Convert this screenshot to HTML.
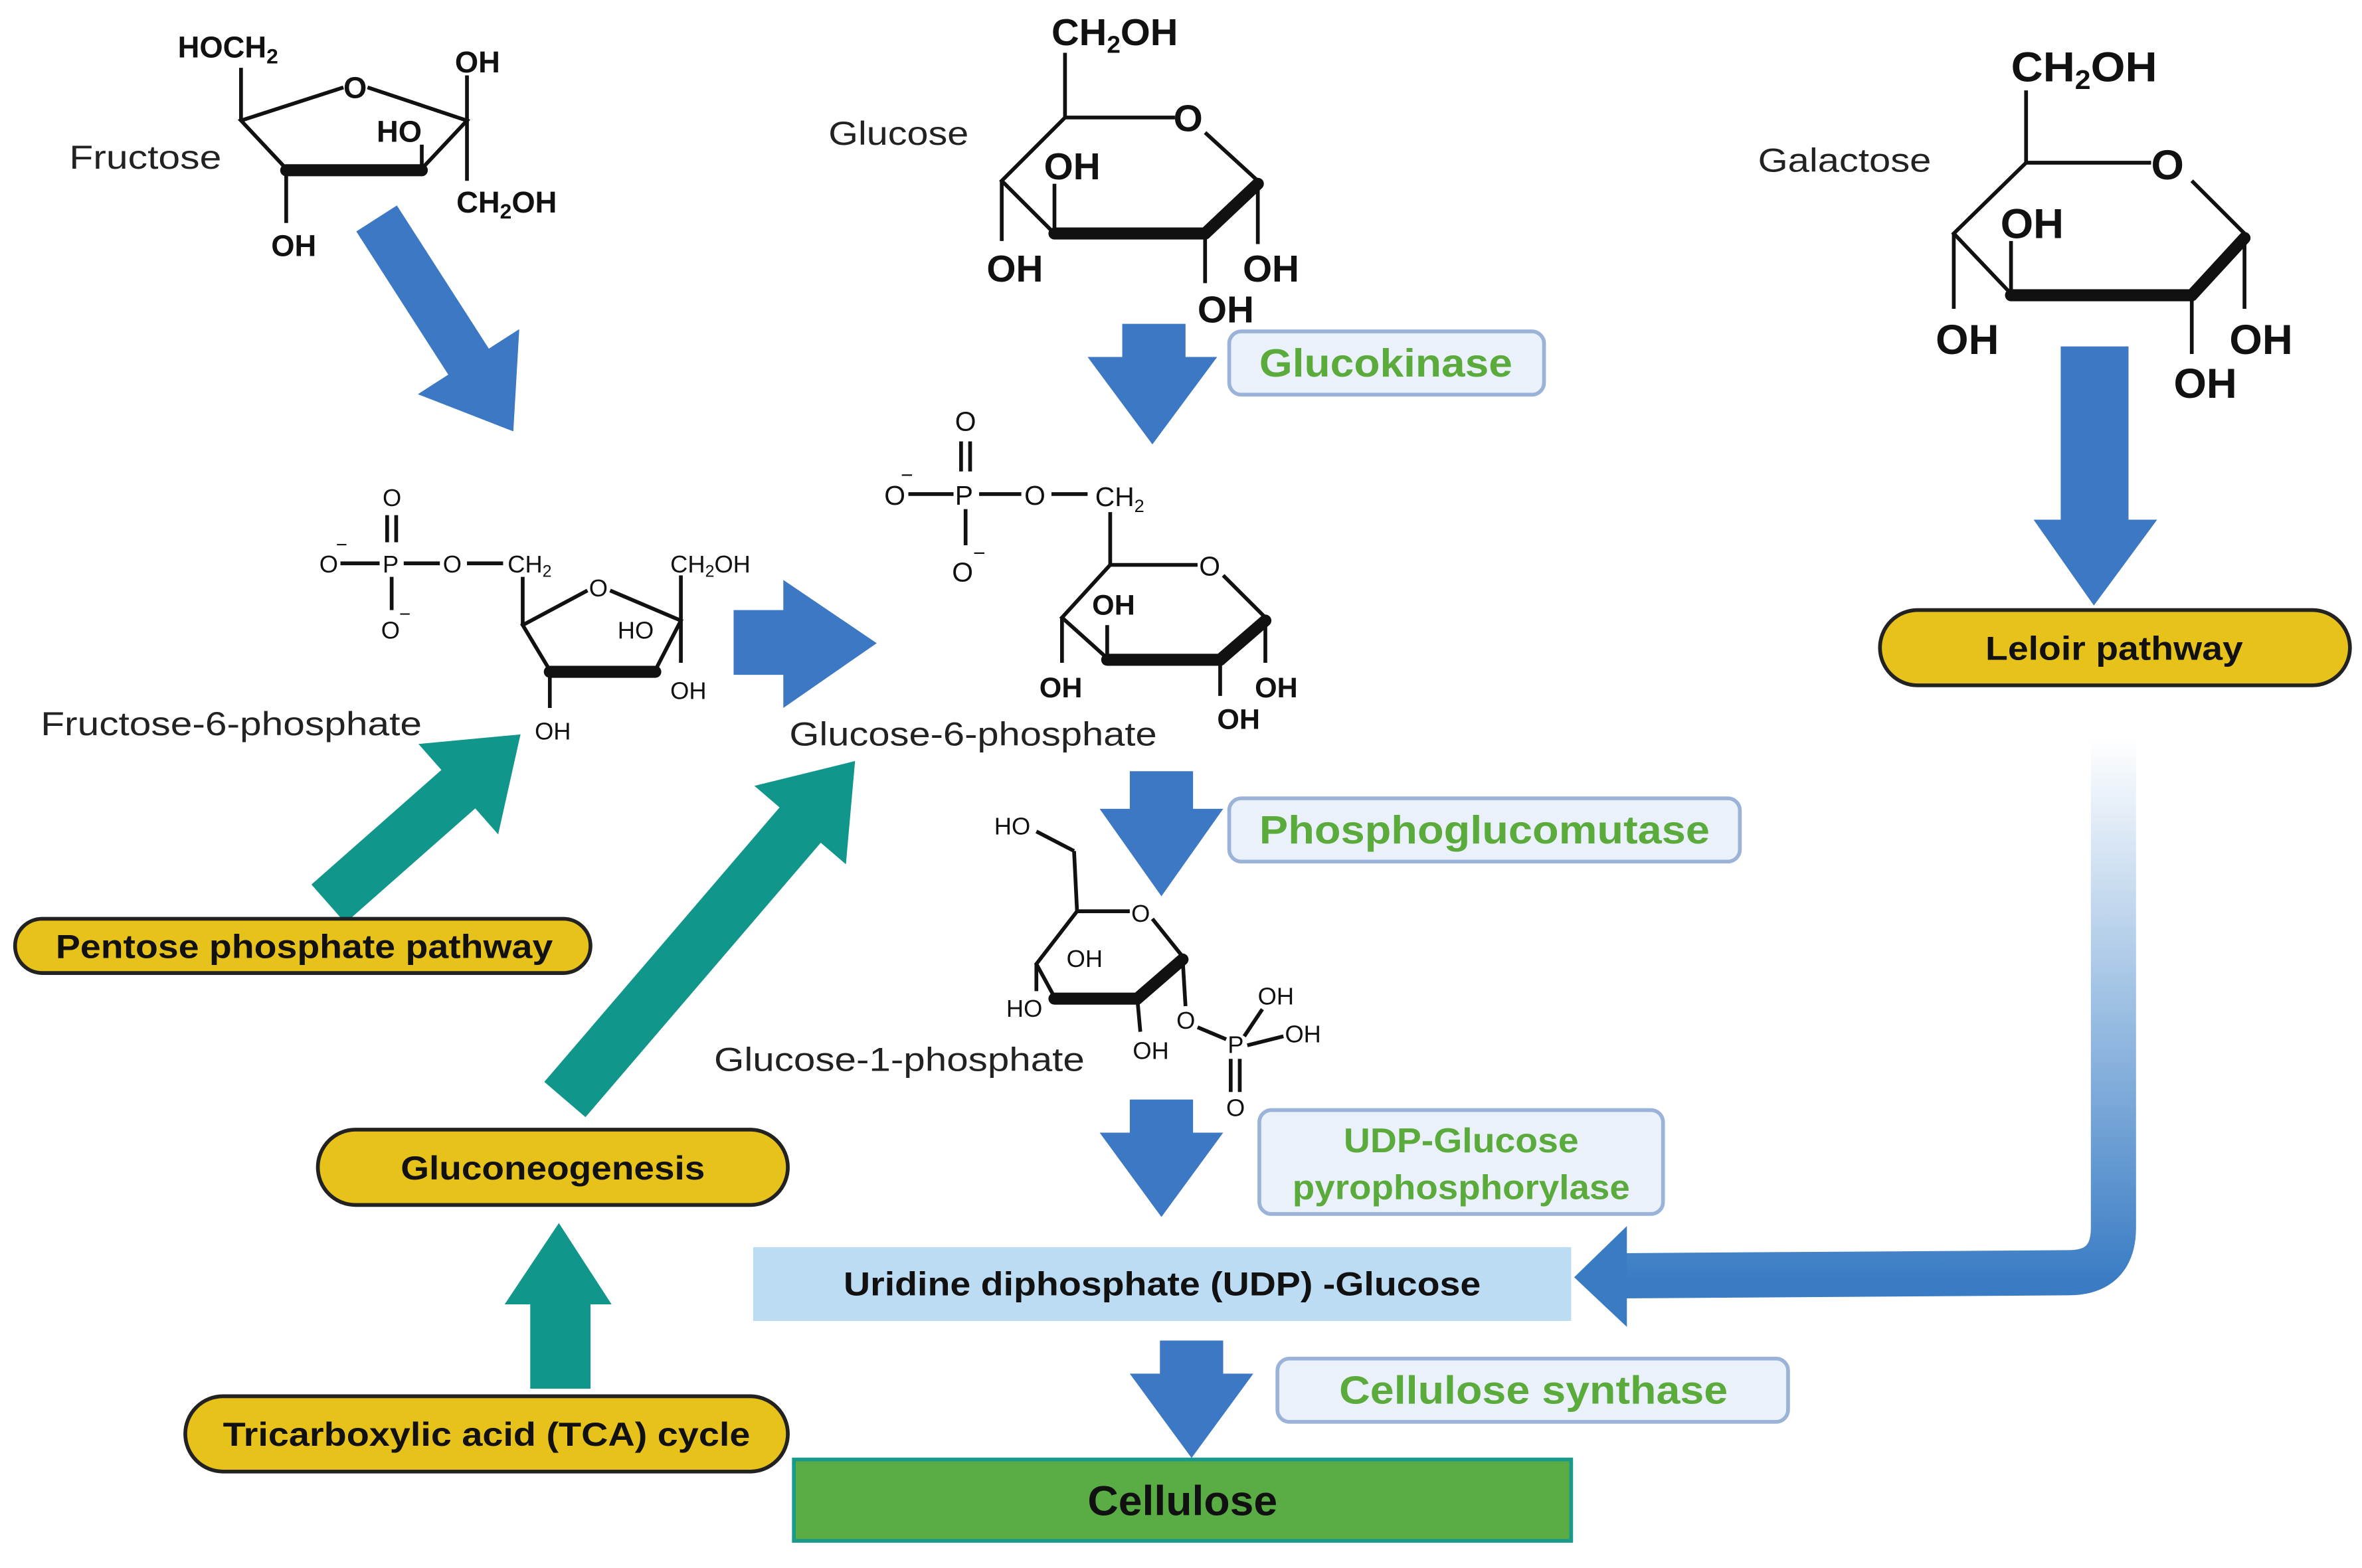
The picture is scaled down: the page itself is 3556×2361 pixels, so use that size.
<!DOCTYPE html>
<html><head><meta charset="utf-8"><style>
html,body{margin:0;padding:0;background:#fff}
svg{display:block}
text{font-family:"Liberation Sans",sans-serif}
.c{font-weight:bold;font-size:20px;fill:#111}
.cs{font-size:16px;fill:#111}
.n{font-size:22px;fill:#222}
.g{font-weight:bold;font-size:26px;fill:#5aab3c}
.p{font-weight:bold;font-size:22px;fill:#111}
.r{fill:none;stroke:#111;stroke-width:2.5}
.rt{fill:none;stroke:#111;stroke-width:8;stroke-linecap:round}
.b{fill:#3d78c4}
.t{fill:#10968a}
.pill{fill:#e6c21a;stroke:#222;stroke-width:2.5}
.eb{fill:#eaf1fa;stroke:#9bb3d8;stroke-width:2.5}
</style></head><body>
<svg width="3556" height="2361" viewBox="0 0 1568 1041" xmlns="http://www.w3.org/2000/svg">
<defs>
<linearGradient id="lg" x1="0" y1="490" x2="0" y2="850" gradientUnits="userSpaceOnUse">
<stop offset="0" stop-color="#ffffff"/><stop offset="0.5" stop-color="#9cbfe3"/><stop offset="1" stop-color="#3a7cc4"/></linearGradient>
</defs>

<!-- Fructose -->
<text class="n" x="46" y="112" textLength="101" lengthAdjust="spacingAndGlyphs">Fructose</text>
<polyline class="r" points="190,112 160,80 228,58"/>
<polyline class="r" points="244,58 310,80 280,112"/>
<line class="rt" x1="190" y1="113" x2="280" y2="113"/>
<line class="r" x1="160" y1="80" x2="160" y2="45"/>
<line class="r" x1="310" y1="80" x2="310" y2="50"/>
<line class="r" x1="310" y1="80" x2="310" y2="120"/>
<line class="r" x1="190" y1="112" x2="190" y2="148"/>
<line class="r" x1="280" y1="112" x2="280" y2="96"/>
<text class="c" x="118" y="38">HOCH<tspan font-size="14" dy="4">2</tspan></text>
<text class="c" x="228" y="65">O</text>
<text class="c" x="302" y="48">OH</text>
<text class="c" x="250" y="94">HO</text>
<text class="c" x="303" y="141">CH<tspan font-size="14" dy="4">2</tspan><tspan dy="-4">OH</tspan></text>
<text class="c" x="180" y="170">OH</text>

<!-- Glucose -->
<text class="n" x="550" y="96" textLength="93" lengthAdjust="spacingAndGlyphs">Glucose</text>
<line class="r" x1="707" y1="78" x2="780" y2="78"/>
<polyline class="r" points="800,88 835,120 835,120"/>
<polyline class="r" points="707,78 665,120 700,155"/>
<line class="rt" x1="700" y1="155" x2="800" y2="155"/>
<line class="rt" x1="800" y1="155" x2="835" y2="122"/>
<line class="r" x1="707" y1="78" x2="707" y2="35"/>
<line class="r" x1="665" y1="120" x2="665" y2="160"/>
<line class="r" x1="835" y1="120" x2="835" y2="162"/>
<line class="r" x1="700" y1="155" x2="700" y2="122"/>
<line class="r" x1="800" y1="155" x2="800" y2="188"/>
<text class="c" x="698" y="30" style="font-size:25px" textLength="84" lengthAdjust="spacingAndGlyphs">CH<tspan style="font-size:16px" dy="5">2</tspan><tspan dy="-5">OH</tspan></text>
<text class="c" x="779" y="87" style="font-size:25px">O</text>
<text class="c" x="693" y="119" style="font-size:25px">OH</text>
<text class="c" x="655" y="187" style="font-size:25px">OH</text>
<text class="c" x="825" y="187" style="font-size:25px">OH</text>
<text class="c" x="795" y="214" style="font-size:25px">OH</text>

<!-- Galactose -->
<text class="n" x="1167" y="114" textLength="115" lengthAdjust="spacingAndGlyphs">Galactose</text>
<line class="r" x1="1345" y1="108" x2="1428" y2="108"/>
<line class="r" x1="1455" y1="120" x2="1490" y2="155"/>
<polyline class="r" points="1345,108 1297,155 1335,195"/>
<line class="rt" x1="1335" y1="196" x2="1455" y2="196"/>
<line class="rt" x1="1455" y1="196" x2="1490" y2="158"/>
<line class="r" x1="1345" y1="108" x2="1345" y2="60"/>
<line class="r" x1="1297" y1="155" x2="1297" y2="205"/>
<line class="r" x1="1490" y1="155" x2="1490" y2="205"/>
<line class="r" x1="1335" y1="195" x2="1335" y2="160"/>
<line class="r" x1="1455" y1="195" x2="1455" y2="235"/>
<text class="c" x="1335" y="54" style="font-size:28px" textLength="97" lengthAdjust="spacingAndGlyphs">CH<tspan style="font-size:18px" dy="5">2</tspan><tspan dy="-5">OH</tspan></text>
<text class="c" x="1428" y="119" style="font-size:28px">O</text>
<text class="c" x="1328" y="158" style="font-size:28px">OH</text>
<text class="c" x="1285" y="235" style="font-size:28px">OH</text>
<text class="c" x="1480" y="235" style="font-size:28px">OH</text>
<text class="c" x="1443" y="264" style="font-size:28px">OH</text>

<!-- Fructose-6-phosphate -->
<text class="n" x="27" y="488" textLength="253" lengthAdjust="spacingAndGlyphs">Fructose-6-phosphate</text>
<text class="cs" x="254" y="336">O</text>
<line class="r" x1="257" y1="342" x2="257" y2="360" stroke-width="1.8"/><line class="r" x1="263" y1="342" x2="263" y2="360" stroke-width="1.8"/>
<text class="cs" x="212" y="380">O</text><text class="cs" x="223" y="366" style="font-size:13px">−</text>
<line class="r" x1="226" y1="374" x2="252" y2="374" stroke-width="1.8"/>
<text class="cs" x="254" y="380">P</text>
<line class="r" x1="268" y1="374" x2="292" y2="374" stroke-width="1.8"/>
<line class="r" x1="260" y1="383" x2="260" y2="405" stroke-width="1.8"/>
<text class="cs" x="253" y="424">O</text><text class="cs" x="265" y="412" style="font-size:13px">−</text>
<text class="cs" x="294" y="380">O</text>
<line class="r" x1="310" y1="374" x2="334" y2="374" stroke-width="1.8"/>
<text class="cs" x="337" y="380">CH<tspan style="font-size:11px" dy="3">2</tspan></text>
<line class="r" x1="347" y1="383" x2="347" y2="415" stroke-width="1.8"/>
<polyline class="r" points="365,445 347,415 390,392" stroke-width="1.8"/>
<polyline class="r" points="405,392 452,412 435,445" stroke-width="1.8"/>
<line class="rt" x1="365" y1="446" x2="435" y2="446" stroke-width="6"/>
<line class="r" x1="452" y1="412" x2="452" y2="382" stroke-width="1.8"/>
<line class="r" x1="452" y1="412" x2="452" y2="440" stroke-width="1.8"/>
<line class="r" x1="365" y1="445" x2="365" y2="470" stroke-width="1.8"/>
<text class="cs" x="391" y="396">O</text>
<text class="cs" x="445" y="380">CH<tspan style="font-size:11px" dy="3">2</tspan><tspan dy="-3">OH</tspan></text>
<text class="cs" x="410" y="424">HO</text>
<text class="cs" x="445" y="464">OH</text>
<text class="cs" x="355" y="491">OH</text>

<!-- Glucose-6-phosphate -->
<text class="n" x="524" y="495" textLength="244" lengthAdjust="spacingAndGlyphs">Glucose-6-phosphate</text>
<text class="cs" x="634" y="286" style="font-size:18px">O</text>
<line class="r" x1="638" y1="293" x2="638" y2="313" stroke-width="1.8"/><line class="r" x1="644" y1="293" x2="644" y2="313" stroke-width="1.8"/>
<text class="cs" x="587" y="335" style="font-size:18px">O</text><text class="cs" x="598" y="320" style="font-size:14px">−</text>
<line class="r" x1="603" y1="328" x2="633" y2="328" stroke-width="1.8"/>
<text class="cs" x="634" y="335" style="font-size:18px">P</text>
<line class="r" x1="650" y1="328" x2="678" y2="328" stroke-width="1.8"/>
<line class="r" x1="641" y1="338" x2="641" y2="362" stroke-width="1.8"/>
<text class="cs" x="632" y="386" style="font-size:18px">O</text><text class="cs" x="646" y="372" style="font-size:14px">−</text>
<text class="cs" x="680" y="335" style="font-size:18px">O</text>
<line class="r" x1="698" y1="328" x2="722" y2="328" stroke-width="1.8"/>
<text class="cs" x="727" y="336" style="font-size:18px">CH<tspan style="font-size:12px" dy="4">2</tspan></text>
<line class="r" x1="737" y1="340" x2="737" y2="375" stroke-width="1.8"/>
<line class="r" x1="737" y1="375" x2="795" y2="375" stroke-width="1.8"/>
<line class="r" x1="812" y1="382" x2="840" y2="410" stroke-width="1.8"/>
<polyline class="r" points="737,375 705,410 735,437" stroke-width="1.8"/>
<line class="rt" x1="735" y1="438" x2="810" y2="438" stroke-width="6"/>
<line class="rt" x1="810" y1="438" x2="840" y2="412" stroke-width="6"/>
<line class="r" x1="705" y1="410" x2="705" y2="440" stroke-width="1.8"/>
<line class="r" x1="840" y1="410" x2="840" y2="440" stroke-width="1.8"/>
<line class="r" x1="735" y1="437" x2="735" y2="415" stroke-width="1.8"/>
<line class="r" x1="810" y1="437" x2="810" y2="462" stroke-width="1.8"/>
<text class="cs" x="796" y="382" style="font-size:18px">O</text>
<text class="c" x="725" y="408" style="font-size:19px">OH</text>
<text class="c" x="690" y="463" style="font-size:19px">OH</text>
<text class="c" x="833" y="463" style="font-size:19px">OH</text>
<text class="c" x="808" y="484" style="font-size:19px">OH</text>

<!-- Glucose-1-phosphate -->
<text class="n" x="474" y="711" textLength="246" lengthAdjust="spacingAndGlyphs">Glucose-1-phosphate</text>
<text class="cs" x="660" y="554">HO</text>
<line class="r" x1="688" y1="552" x2="713" y2="565" stroke-width="1.6"/>
<line class="r" x1="713" y1="565" x2="715" y2="605" stroke-width="1.6"/>
<line class="r" x1="715" y1="605" x2="750" y2="605" stroke-width="1.6"/>
<line class="r" x1="765" y1="610" x2="785" y2="635" stroke-width="1.6"/>
<polyline class="r" points="715,605 688,640 700,662" stroke-width="1.6"/>
<line class="rt" x1="700" y1="663" x2="755" y2="663" stroke-width="6"/>
<line class="rt" x1="755" y1="663" x2="785" y2="637" stroke-width="6"/>
<line class="r" x1="688" y1="640" x2="688" y2="658" stroke-width="1.6"/>
<line class="r" x1="755" y1="663" x2="757" y2="685" stroke-width="1.6"/>
<line class="r" x1="785" y1="635" x2="787" y2="668" stroke-width="1.6"/>
<text class="cs" x="751" y="612">O</text>
<text class="cs" x="708" y="642">OH</text>
<text class="cs" x="668" y="675">HO</text>
<text class="cs" x="752" y="703">OH</text>
<text class="cs" x="781" y="683">O</text>
<line class="r" x1="795" y1="682" x2="814" y2="690" stroke-width="1.6"/>
<text class="cs" x="815" y="699">P</text>
<line class="r" x1="826" y1="688" x2="838" y2="670" stroke-width="1.6"/>
<line class="r" x1="828" y1="694" x2="852" y2="688" stroke-width="1.6"/>
<line class="r" x1="817" y1="703" x2="817" y2="725" stroke-width="1.6"/><line class="r" x1="823" y1="703" x2="823" y2="725" stroke-width="1.6"/>
<text class="cs" x="835" y="667">OH</text>
<text class="cs" x="853" y="692">OH</text>
<text class="cs" x="814" y="741">O</text>

<!-- Blue arrows -->
<path class="b" transform="translate(250,145) rotate(57.3)" d="M0,-16 L113,-16 L113,-40 L168,0 L113,40 L113,16 L0,16 Z"/>
<path class="b" d="M745,215 L787,215 L787,237 L808,237 L765,295 L722,237 L745,237 Z"/>
<path class="b" d="M487,405 L520,405 L520,385 L582,427 L520,470 L520,448 L487,448 Z"/>
<path class="b" d="M750,512 L792,512 L792,537 L812,537 L771,595 L730,537 L750,537 Z"/>
<path class="b" d="M750,730 L792,730 L792,752 L812,752 L771,808 L730,752 L750,752 Z"/>
<path class="b" d="M770,890 L812,890 L812,912 L832,912 L791,968 L750,912 L770,912 Z"/>
<path class="b" d="M1368,230 L1413,230 L1413,345 L1432,345 L1390,402 L1350,345 L1368,345 Z"/>

<!-- Leloir gradient arrow -->
<path d="M1403,490 L1403,815 Q1403,845 1373,845 L1078,847" fill="none" stroke="url(#lg)" stroke-width="30"/>
<path d="M1080,814 L1045,848 L1080,881 Z" fill="#3a7cc4"/>

<!-- Teal arrows -->
<path class="t" transform="translate(218,600) rotate(-41.4)" d="M0,-17 L115,-17 L115,-40 L170,0 L115,40 L115,17 L0,17 Z"/>
<path class="t" transform="translate(375,730) rotate(-49.4)" d="M0,-18 L240,-18 L240,-40 L296,0 L240,40 L240,18 L0,18 Z"/>
<path class="t" d="M352,922 L392,922 L392,866 L406,866 L371,812 L335,866 L352,866 Z"/>

<!-- Enzyme boxes -->
<rect class="eb" x="816" y="220" width="209" height="42" rx="8"/>
<text class="g" x="836" y="250" textLength="168" lengthAdjust="spacingAndGlyphs">Glucokinase</text>
<rect class="eb" x="816" y="530" width="339" height="42" rx="8"/>
<text class="g" x="836" y="560" textLength="299" lengthAdjust="spacingAndGlyphs">Phosphoglucomutase</text>
<rect class="eb" x="836" y="737" width="268" height="69" rx="8"/>
<text class="g" x="892" y="765" style="font-size:23px" textLength="156" lengthAdjust="spacingAndGlyphs">UDP-Glucose</text>
<text class="g" x="858" y="796" style="font-size:23px" textLength="224" lengthAdjust="spacingAndGlyphs">pyrophosphorylase</text>
<rect class="eb" x="848" y="902" width="339" height="42" rx="8"/>
<text class="g" x="889" y="932" textLength="258" lengthAdjust="spacingAndGlyphs">Cellulose synthase</text>

<!-- UDP & Cellulose -->
<rect x="500" y="828" width="543" height="49" fill="#bcdcf3"/>
<text class="p" x="560" y="860" textLength="423" lengthAdjust="spacingAndGlyphs">Uridine diphosphate (UDP) -Glucose</text>
<rect x="527" y="969" width="516" height="54" fill="#5aac44" stroke="#1a9a8a" stroke-width="2.5"/>
<text class="p" x="722" y="1006" style="font-size:28px" textLength="126" lengthAdjust="spacingAndGlyphs">Cellulose</text>

<!-- Pills -->
<rect class="pill" x="1248" y="405" width="312" height="50" rx="25"/>
<text class="p" x="1318" y="438" textLength="171" lengthAdjust="spacingAndGlyphs">Leloir pathway</text>
<rect class="pill" x="10" y="610" width="382" height="36" rx="18"/>
<text class="p" x="37" y="636" textLength="330" lengthAdjust="spacingAndGlyphs">Pentose phosphate pathway</text>
<rect class="pill" x="211" y="750" width="312" height="50" rx="25"/>
<text class="p" x="266" y="783" textLength="202" lengthAdjust="spacingAndGlyphs">Gluconeogenesis</text>
<rect class="pill" x="123" y="927" width="400" height="50" rx="25"/>
<text class="p" x="148" y="960" textLength="350" lengthAdjust="spacingAndGlyphs">Tricarboxylic acid (TCA) cycle</text>
</svg>
</body></html>
